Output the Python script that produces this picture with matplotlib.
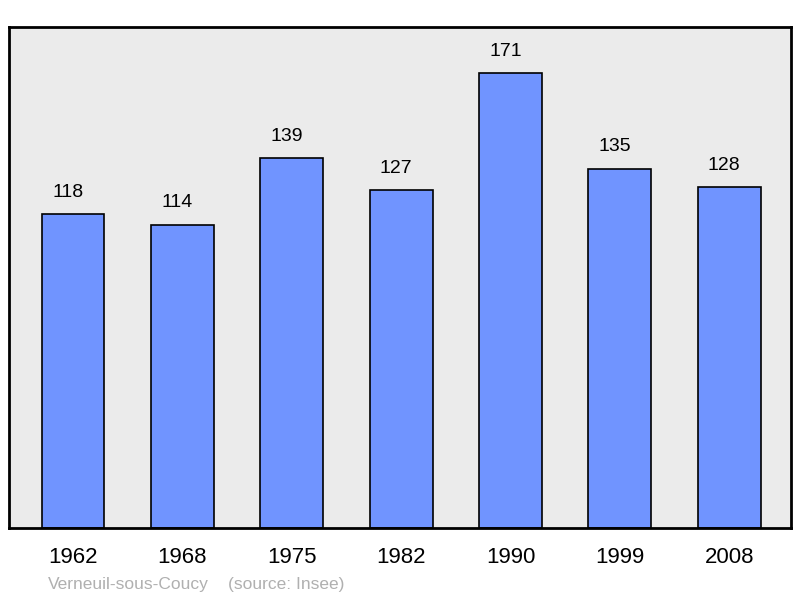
import matplotlib.pyplot as plt

# Données
years = ['1962', '1968', '1975', '1982', '1990', '1999', '2008']
population = [118, 114, 139, 127, 171, 135, 128]
town = 'Verneuil-sous-Coucy'
source = '(source: Insee)'

plt.rcParams['font.family'] = ['Liberation Sans', 'DejaVu Sans']

fig = plt.figure(figsize=(8, 5.98), dpi=100)
ax = fig.add_axes([9/800, 70/598, 782/800, 501/598])
ax.set_facecolor('#ebebeb')

x = range(len(years))
ax.bar(x, population, width=0.575, color='#7094ff', edgecolor='black', linewidth=1.2, zorder=2)

for i, v in enumerate(population):
    ax.annotate(str(v), (i, v), xytext=(-3.6, 12.5), textcoords='offset points',
                ha='center', va='baseline', fontsize=14)

ax.set_xlim(-0.585, 6.565)
ax.set_ylim(0, 188.3)
ax.set_yticks([])
ax.set_xticks(list(x))
ax.set_xticklabels(years, fontsize=16)
ax.tick_params(axis='x', length=0, pad=14)
for s in ax.spines.values():
    s.set_linewidth(2)

fig.text(48/800, 1 - 584/598, town, color='#b0b0b0', fontsize=12.5, va='center')
fig.text(228/800, 1 - 584/598, source, color='#b0b0b0', fontsize=12.5, va='center')

fig.savefig('out.png', dpi=100)
